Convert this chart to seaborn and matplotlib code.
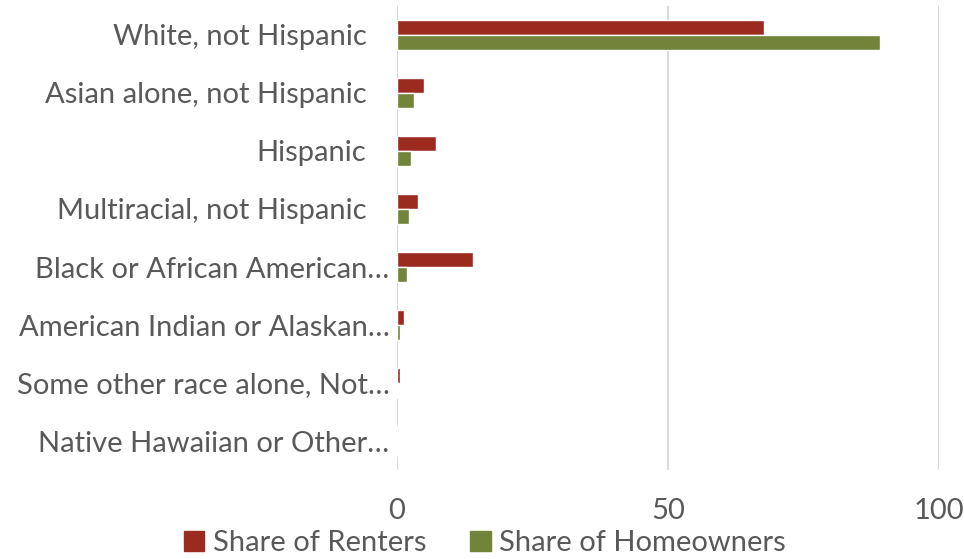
import matplotlib
matplotlib.use('Agg')
import numpy as np
import pandas as pd
import matplotlib.pyplot as plt
import matplotlib.transforms as mtransforms
import seaborn as sns

categories = [
    'White, not Hispanic',
    'Asian alone, not Hispanic',
    'Hispanic',
    'Multiracial, not Hispanic',
    'Black or African American…',
    'American Indian or Alaskan…',
    'Some other race alone, Not…',
    'Native Hawaiian or Other…',
]
renters = [67.7, 5.0, 7.2, 3.8, 14.1, 1.35, 0.5, 0.1]
homeowners = [89.1, 3.1, 2.6, 2.2, 1.9, 0.5, 0.25, 0.05]
series = ['Share of Renters', 'Share of Homeowners']
colors = ['#9C2B1F', '#71843A']

df = pd.DataFrame({
    'category': categories * 2,
    'value': renters + homeowners,
    'series': [series[0]] * len(categories) + [series[1]] * len(categories),
})

sns.set_style('white')
plt.rcParams['font.family'] = ['Lato', 'DejaVu Sans']
text_col = '#595959'

fig = plt.figure(figsize=(9.64, 5.59), dpi=100)
ax = fig.add_axes([397 / 964, 89 / 559, 542 / 964, 464 / 559])

sns.barplot(data=df, y='category', x='value', hue='series', orient='h',
            palette=colors, width=0.52, ax=ax, saturation=1, legend=False)

ax.set_xlim(0, 100)
ax.set_xticks([0, 50, 100])
ax.xaxis.grid(True, color='#D9D9D9', linewidth=1.5)
ax.set_axisbelow(True)
for s in ax.spines.values():
    s.set_visible(False)
ax.set_xlabel('')
ax.set_ylabel('')
ax.tick_params(axis='x', length=0, pad=20, labelsize=21, labelcolor=text_col)
ax.tick_params(axis='y', length=0, pad=22, labelsize=21, labelcolor=text_col)

# truncated labels sit a bit further right, like in the original
shift = mtransforms.ScaledTranslation(23 / 100, 0, fig.dpi_scale_trans)
for lab in ax.get_yticklabels():
    if lab.get_text().endswith('…'):
        lab.set_transform(lab.get_transform() + shift)

handles = [plt.Rectangle((0, 0), 1, 1, color=c) for c in colors]
fig.legend(handles, series, loc='center', bbox_to_anchor=(485 / 964, 16 / 559),
           ncol=2, frameon=False, fontsize=21, labelcolor=text_col,
           handlelength=0.7, handleheight=0.7, handletextpad=0.3, columnspacing=1.5)

fig.savefig('out.png', dpi=100)
